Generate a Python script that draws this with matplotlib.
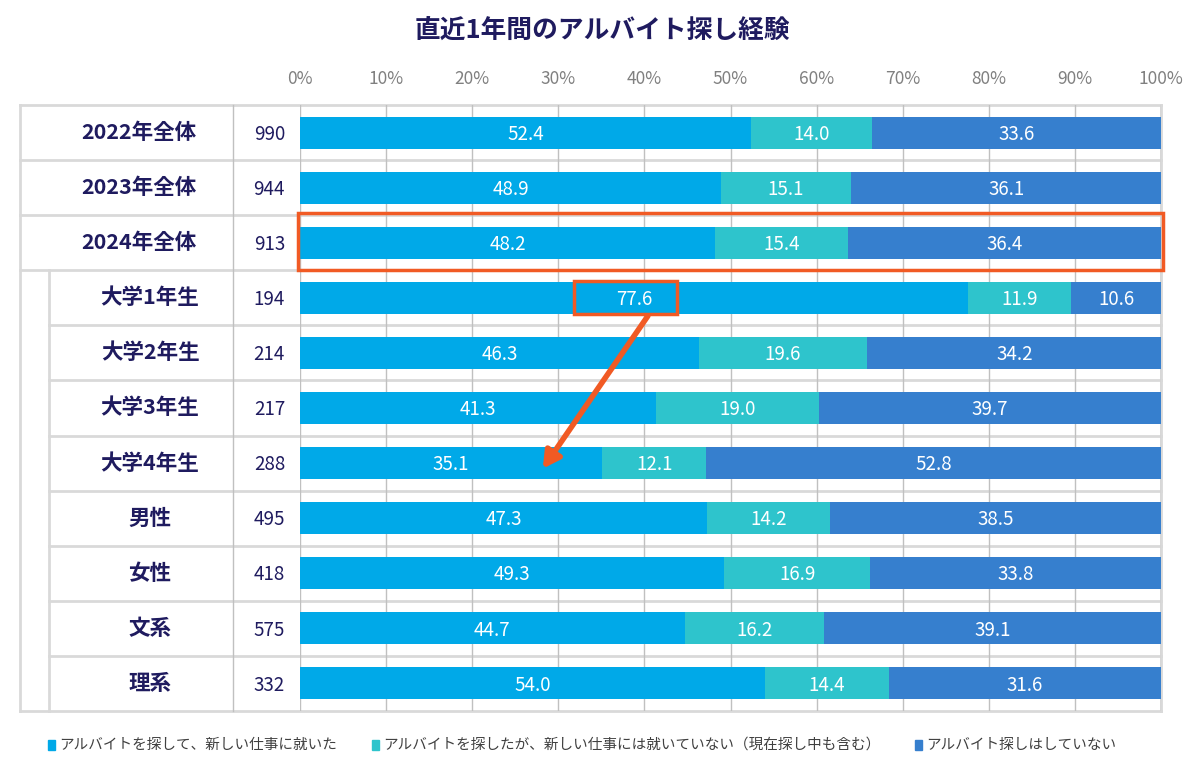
import matplotlib
matplotlib.use("Agg")
import matplotlib.pyplot as plt
from matplotlib.lines import Line2D
from matplotlib.patches import Rectangle
from matplotlib.transforms import blended_transform_factory

plt.rcParams['font.family'] = ['Noto Sans CJK JP', 'DejaVu Sans']

# data
groups = ['2022年全体', '2023年全体', '2024年全体', '大学1年生', '大学2年生',
          '大学3年生', '大学4年生', '男性', '女性', '文系', '理系']
n_counts = [990, 944, 913, 194, 214, 217, 288, 495, 418, 575, 332]
found_job = [52.4, 48.9, 48.2, 77.6, 46.3, 41.3, 35.1, 47.3, 49.3, 44.7, 54.0]
not_found = [14.0, 15.1, 15.4, 11.9, 19.6, 19.0, 12.1, 14.2, 16.9, 16.2, 14.4]
not_searched = [33.6, 36.1, 36.4, 10.6, 34.2, 39.7, 52.8, 38.5, 33.8, 39.1, 31.6]
series_names = ['アルバイトを探して、新しい仕事に就いた',
                'アルバイトを探したが、新しい仕事には就いていない（現在探し中も含む）',
                'アルバイト探しはしていない']
colors = ['#00a9e8', '#2ec4cc', '#367fce']

navy = '#1f1b5f'
grid_c = '#c0c0c0'
sep_c = '#d9d9d9'
orange = '#f15a24'

W, H = 1200, 774
fig = plt.figure(figsize=(12, 7.74), dpi=100)
ax = fig.add_axes([300 / W, 1 - 711 / H, 861 / W, 606 / H])
ax.patch.set_visible(False)

y = list(range(len(groups)))
left = [0] * len(groups)
for vals, c in zip([found_job, not_found, not_searched], colors):
    ax.barh(y, vals, left=left, height=0.58, color=c, zorder=3)
    for yi, v, l in zip(y, vals, left):
        ax.text(l + v / 2, yi + 0.03, f'{v:.1f}', ha='center', va='center',
                color='white', fontsize=13.5, zorder=4)
    left = [a + b for a, b in zip(left, vals)]

ax.set_xlim(0, 100)
ax.set_ylim(len(groups) - 0.5, -0.5)
ax.set_xticks(range(0, 101, 10))
ax.set_xticklabels([f'{t}%' for t in range(0, 101, 10)])
ax.xaxis.tick_top()
ax.tick_params(axis='x', length=0, pad=12, labelsize=12.5, labelcolor='#808080')
ax.set_yticks([])
ax.grid(axis='x', color=grid_c, lw=1, zorder=0)
for s in ax.spines.values():
    s.set_visible(False)

# table lines (figure x, data y), drawn behind the axes
tr = blended_transform_factory(fig.transFigure, ax.transData)
x0, x_ind, x_n, x_end = 20 / W, 49 / W, 233 / W, 1161 / W
for i in range(len(groups) + 1):
    yy = i - 0.5
    xs = x0 if i <= 3 or i == len(groups) else x_ind
    fig.add_artist(Line2D([xs, x_end], [yy, yy], transform=tr, color=sep_c, lw=2, zorder=-1))
fig.add_artist(Line2D([x0, x0], [-0.5, len(groups) - 0.5], transform=tr, color=sep_c, lw=2, zorder=-1))
fig.add_artist(Line2D([x_ind, x_ind], [2.5, len(groups) - 0.5], transform=tr, color=sep_c, lw=2, zorder=-1))
fig.add_artist(Line2D([x_n, x_n], [-0.5, len(groups) - 0.5], transform=tr, color=grid_c, lw=1, zorder=-1))
fig.add_artist(Line2D([x_end, x_end], [-0.5, len(groups) - 0.5], transform=tr, color=sep_c, lw=2, zorder=-1))

for i, (g, n) in enumerate(zip(groups, n_counts)):
    lx = 139 / W if i < 3 else 150 / W
    fig.text(lx, i, g, transform=tr, ha='center', va='center',
             fontsize=15.5, fontweight='bold', color=navy)
    fig.text(285 / W, i + 0.03, str(n), transform=tr, ha='right', va='center',
             fontsize=13.5, color=navy)

# highlight boxes and arrow
ax.add_patch(Rectangle((-0.25, 1.46), 100.45, 1.03, fill=False, ec=orange, lw=2.5,
                       clip_on=False, zorder=6))
ax.add_patch(Rectangle((found_job[3] / 2 - 7.0, 2.7), 12.0, 0.6, fill=False, ec=orange,
                       lw=2.5, clip_on=False, zorder=6))
ax.annotate('', xy=(28.2, 6.1), xytext=(40.4, 3.33),
            arrowprops=dict(arrowstyle='-|>,head_length=1.0,head_width=0.55',
                            color=orange, lw=4, shrinkA=0, shrinkB=0), zorder=7)

fig.text(0.502, 1 - 30 / H, '直近1年間のアルバイト探し経験', ha='center', va='center',
         fontsize=18.5, fontweight='bold', color=navy)

# legend
leg_x = [48, 372, 915]
for lx, name, c in zip(leg_x, series_names, colors):
    fig.add_artist(Rectangle((lx / W, 1 - 750 / H), 7 / W, 10 / H, color=c,
                             transform=fig.transFigure))
    fig.text((lx + 11) / W, 1 - 745 / H, name, ha='left', va='center',
             fontsize=10.5, color='#404040')

fig.savefig('out.png', dpi=100)
